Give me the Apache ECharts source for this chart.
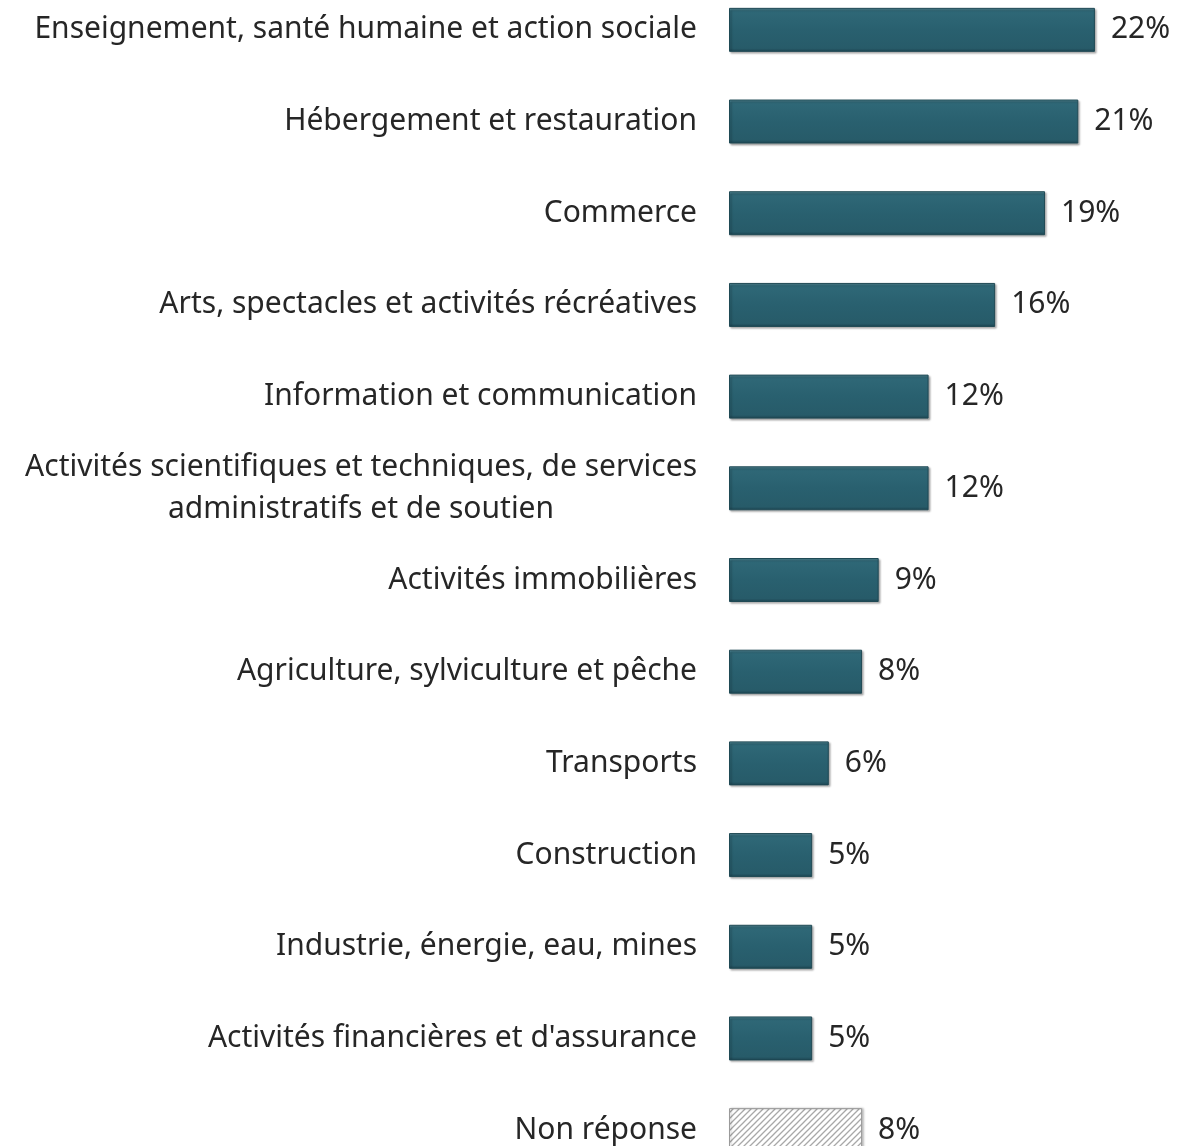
<!DOCTYPE html>
<html>
<head>
<meta charset="utf-8">
<script src="https://cdn.jsdelivr.net/npm/echarts@6/dist/echarts.min.js"></script>
<style>
  html, body { margin: 0; padding: 0; background: #ffffff; }
  #chart { width: 1182px; height: 1146px; }
</style>
</head>
<body>
<div id="chart"></div>
<script>
// Secteurs d'activité (pourcentages)
const categories = [
  "Enseignement, santé humaine et action sociale",
  "Hébergement et restauration",
  "Commerce",
  "Arts, spectacles et activités récréatives",
  "Information et communication",
  "Activités scientifiques et techniques, de services\nadministratifs et de soutien",
  "Activités immobilières",
  "Agriculture, sylviculture et pêche",
  "Transports",
  "Construction",
  "Industrie, énergie, eau, mines",
  "Activités financières et d'assurance",
  "Non réponse"
];
const values = [22, 21, 19, 16, 12, 12, 9, 8, 6, 5, 5, 5, 8];
const missingLabel = "Non réponse";

const FONT = 'Noto Sans';
const FONT_SIZE = 30;
const TEXT_COLOR = '#262626';

// hatch pattern for the "no answer" bar
function makeHatch() {
  const c = document.createElement('canvas');
  c.width = 6; c.height = 6;
  const g = c.getContext('2d');
  g.fillStyle = '#ffffff';
  g.fillRect(0, 0, 6, 6);
  g.strokeStyle = '#a8a8a8';
  g.lineWidth = 1.3;
  g.beginPath();
  g.moveTo(0, 6); g.lineTo(6, 0);
  g.moveTo(-3, 3); g.lineTo(3, -3);
  g.moveTo(3, 9); g.lineTo(9, 3);
  g.stroke();
  return c;
}

const tealStyle = {
  color: {
    type: 'linear', x: 0, y: 0, x2: 0, y2: 1,
    colorStops: [
      { offset: 0, color: '#5b92a0' },
      { offset: 0.07, color: '#2f6877' },
      { offset: 0.5, color: '#29606f' },
      { offset: 0.92, color: '#275b69' },
      { offset: 1, color: '#1c4350' }
    ]
  },
  borderColor: '#1f4954',
  borderWidth: 1,
  shadowColor: 'rgba(0,0,0,0.3)',
  shadowBlur: 2,
  shadowOffsetX: 1.5,
  shadowOffsetY: 1.5
};
const hatchStyle = {
  color: { image: makeHatch(), repeat: 'repeat' },
  borderColor: '#9a9a9a',
  borderWidth: 1,
  shadowColor: 'rgba(0,0,0,0.25)',
  shadowBlur: 2,
  shadowOffsetX: 1.5,
  shadowOffsetY: 0
};

const seriesData = values.map((v, i) => ({
  value: v,
  itemStyle: categories[i] === missingLabel ? hatchStyle : tealStyle
}));

const chart = echarts.init(document.getElementById('chart'), null, { renderer: 'canvas' });
chart.setOption({
  backgroundColor: '#ffffff',
  animation: false,
  grid: {
    left: 729, top: -16, width: 499, height: 1192,
    containLabel: false, outerBoundsMode: 'none'
  },
  xAxis: {
    type: 'value', min: 0, max: 30,
    show: false
  },
  yAxis: {
    type: 'category',
    inverse: true,
    data: categories,
    axisLine: { show: false },
    axisTick: { show: false },
    axisLabel: {
      margin: 32,
      fontFamily: FONT,
      fontSize: FONT_SIZE,
      color: TEXT_COLOR,
      lineHeight: 42,
      formatter: function (val) {
        if (val.indexOf('\n') >= 0) {
          return val.split('\n').map(s => '{c|' + s + '}').join('\n');
        }
        return val;
      },
      rich: {
        c: { align: 'center', fontFamily: FONT, fontSize: FONT_SIZE, color: TEXT_COLOR, lineHeight: 42 }
      }
    }
  },
  series: [{
    type: 'bar',
    data: seriesData,
    barWidth: 44,
    label: {
      show: true,
      position: 'right',
      distance: 16,
      formatter: '{c}%',
      fontFamily: FONT,
      fontSize: FONT_SIZE,
      color: TEXT_COLOR
    }
  }]
});
</script>
</body>
</html>
